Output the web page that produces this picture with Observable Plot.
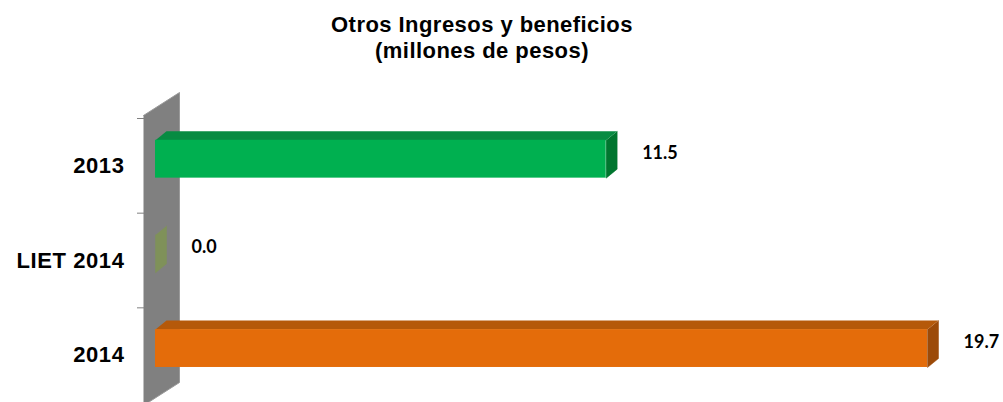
<!DOCTYPE html>
<html>
<head>
<meta charset="utf-8">
<script src="https://cdn.jsdelivr.net/npm/d3@7"></script>
<script src="https://cdn.jsdelivr.net/npm/@observablehq/plot@0.6"></script>
<style>
  body { margin: 0; background: #fff; }
  #title { width: 964px; height: 68px; padding-top: 12px; box-sizing: border-box;
    font-family: "Liberation Sans", Arial, sans-serif; font-weight: bold; font-size: 22px;
    letter-spacing: 0.45px; text-align: center; color: #000; }
  #title div { line-height: 26px; }
</style>
</head>
<body>
<div id="title"><div>Otros Ingresos y beneficios</div><div>(millones de pesos)</div></div>
<div id="chart"></div>
<script>
const categories = ["2013", "LIET 2014", "2014"];
const values = [11.5, 0.0, 19.7];
const frontColors = ["#00B050", "#9BBB59", "#E46C0A"];
const topColors = ["#078B42", "#7F9159", "#B5590A"];
const sideColors = ["#00762F", "#7F9159", "#9C4A08"];
const valueLabels = ["11.5", "0.0", "19.7"];

const W = 1003, H = 334, mL = 155, mR = 76, mT = 50, mB = 0;
const xMax = 19.7;
const pxX = (W - mL - mR) / xMax;          // pixels per x unit
const pxY = (H - mT - mB) / 3;             // pixels per y unit
const depthX = 11 / pxX, depthY = -9 / pxY; // 3D depth in data units
const f1 = -0.27, f2 = 0.13;               // front face extent around band centre

const bars = categories.map((c, i) => ({i, c, v: values[i]}));

// depth faces as polygons (computed from values)
const faces = [];
bars.forEach(d => {
  const yt = d.i + f1, yb = d.i + f2;
  faces.push({id: "s" + d.i, col: sideColors[d.i], x: d.v, y: yt});
  faces.push({id: "s" + d.i, col: sideColors[d.i], x: d.v, y: yb});
  faces.push({id: "s" + d.i, col: sideColors[d.i], x: d.v + depthX, y: yb + depthY});
  faces.push({id: "s" + d.i, col: sideColors[d.i], x: d.v + depthX, y: yt + depthY});
  if (d.v > 0) {
    faces.push({id: "t" + d.i, col: topColors[d.i], x: 0, y: yt});
    faces.push({id: "t" + d.i, col: topColors[d.i], x: d.v, y: yt});
    faces.push({id: "t" + d.i, col: topColors[d.i], x: d.v + depthX, y: yt + depthY});
    faces.push({id: "t" + d.i, col: topColors[d.i], x: depthX, y: yt + depthY});
  }
});

// side wall
const wl = -12 / pxX, wr = 24 / pxX;
const wall = [
  {x: wl, y: -0.5 - 3 / pxY},
  {x: wr, y: -0.5 - 26 / pxY},
  {x: wr, y: 2.5 - 20 / pxY},
  {x: wl, y: 2.5 + 3 / pxY}
];

const chart = Plot.plot({
  width: W, height: H,
  marginLeft: mL, marginRight: mR, marginTop: mT, marginBottom: mB,
  x: {domain: [0, xMax], axis: null},
  y: {domain: [-0.5, 2.5], reverse: true, axis: null},
  style: {background: "transparent", overflow: "visible"},
  marks: [
    Plot.axisY({ticks: [-0.5, 0.5, 1.5, 2.5], tickSize: 8, dx: -10, tickFormat: () => "", stroke: "#808080"}),
    Plot.line(wall, {x: "x", y: "y", fill: "#808080", stroke: "#9a9a9a", strokeWidth: 1}),
    Plot.line(faces.filter(d => d.id[0] === "s"), {x: "x", y: "y", z: "id", fill: "col", stroke: "col", strokeWidth: 0.5}),
    Plot.line(faces.filter(d => d.id[0] === "t"), {x: "x", y: "y", z: "id", fill: "col", stroke: "none"}),
    Plot.rectX(bars.filter(d => d.v > 0), {x1: 0, x2: "v", y1: d => d.i + f1, y2: d => d.i + f2, fill: d => frontColors[d.i]}),
    Plot.text(bars, {x: 0, y: "i", text: "c", dx: -31, textAnchor: "end", fontSize: 22, fontWeight: "bold",
      fontFamily: "Liberation Sans, Arial, sans-serif", fill: "#000"}),
    Plot.text(bars, {x: "v", y: "i", text: d => valueLabels[d.i], dx: 36, dy: -13, textAnchor: "start", fontSize: 18,
      fontWeight: "bold", fontFamily: "Lato, sans-serif", fill: "#000"})
  ]
});
// slightly widen the category labels' letter spacing
d3.select(chart).selectAll("text").filter(function() {
  return categories.includes(this.textContent);
}).style("letter-spacing", "0.6px");
document.getElementById("chart").appendChild(chart);
</script>
</body>
</html>
